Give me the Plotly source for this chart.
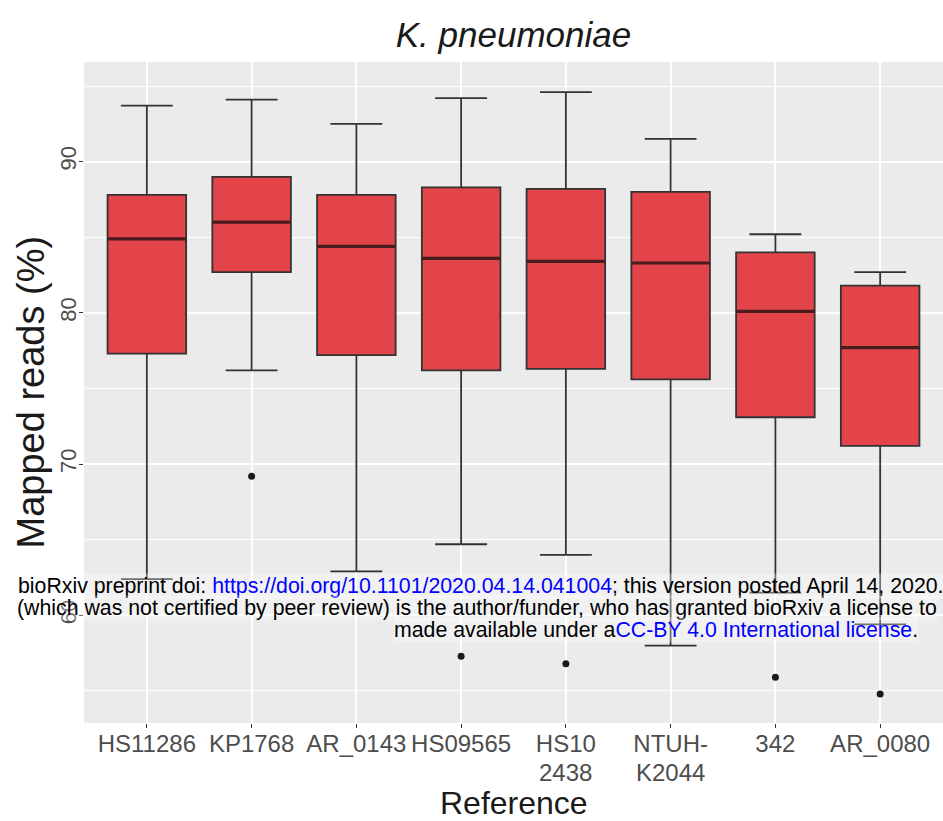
import plotly.graph_objects as go

# Reference genomes and box statistics of mapped reads (%)
references = ["HS11286", "KP1768", "AR_0143", "HS09565", "HS10<br>2438",
              "NTUH-<br>K2044", "342", "AR_0080"]
lower_whisker = [62.4, 76.2, 62.9, 64.7, 64.0, 58.0, 61.5, 59.4]
q1_values = [77.3, 82.7, 77.2, 76.2, 76.3, 75.6, 73.1, 71.2]
medians = [84.9, 86.0, 84.4, 83.6, 83.4, 83.3, 80.1, 77.7]
q3_values = [87.8, 89.0, 87.8, 88.3, 88.2, 88.0, 84.0, 81.8]
upper_whisker = [93.7, 94.1, 92.5, 94.2, 94.6, 91.5, 85.2, 82.7]

# Outlying samples (reference index, value)
outlier_ref = [1, 3, 4, 6, 7]
outlier_val = [69.2, 57.3, 56.8, 55.9, 54.8]

BOX_WIDTH = 0.75
positions = list(range(len(references)))

fig = go.Figure()

fig.add_trace(go.Box(
    x=positions,
    q1=q1_values,
    median=medians,
    q3=q3_values,
    lowerfence=lower_whisker,
    upperfence=upper_whisker,
    width=BOX_WIDTH,
    whiskerwidth=0.66,
    fillcolor="#E2444A",
    line=dict(color="#333333", width=1.8),
    boxpoints=False,
    hoverinfo="skip",
    showlegend=False,
))

# Heavier median bars drawn over each box
med_x, med_y = [], []
for i, m in zip(positions, medians):
    med_x += [i - BOX_WIDTH / 2, i + BOX_WIDTH / 2, None]
    med_y += [m, m, None]
fig.add_trace(go.Scatter(
    x=med_x, y=med_y, mode="lines",
    line=dict(color="#4a1c1e", width=3.2),
    hoverinfo="skip", showlegend=False,
))

fig.add_trace(go.Scatter(
    x=outlier_ref, y=outlier_val, mode="markers",
    marker=dict(color="#1a1a1a", size=7),
    hoverinfo="skip", showlegend=False,
))

FONT = "Liberation Sans, Arial, sans-serif"
tick_font = dict(family=FONT, color="#4D4D4D")

# Two-line category names: first line as the tick label, second line placed
# just below it with tighter spacing
first_lines = [r.split("<br>")[0] for r in references]
second_lines = [(i, r.split("<br>")[1]) for i, r in enumerate(references) if "<br>" in r]

fig.update_layout(
    width=943, height=821,
    margin=dict(l=84, r=0, t=62, b=98),
    paper_bgcolor="white",
    plot_bgcolor="#EBEBEB",
    title=dict(
        text="<i>K. pneumoniae</i>",
        x=0.5, xref="paper", xanchor="center",
        y=1 - 35 / 821, yref="container", yanchor="middle",
        font=dict(family=FONT, size=35, color="#1a1a1a"),
    ),
    xaxis=dict(
        range=[-0.6, 7.6],
        tickmode="array", tickvals=positions, ticktext=first_lines,
        showgrid=True, gridcolor="white", gridwidth=1.6,
        zeroline=False, showline=False,
        ticks="outside", ticklen=4, tickcolor="#333333", tickwidth=1.2,
        ticklabelstandoff=-5,
        tickfont=dict(size=24, **tick_font),
    ),
    yaxis=dict(
        range=[52.88, 96.59],
        tickmode="array", tickvals=[60, 70, 80, 90],
        tickangle=-90,
        showgrid=True, gridcolor="white", gridwidth=2,
        minor=dict(tickmode="array", tickvals=[55, 65, 75, 85, 95],
                   showgrid=True, gridcolor="white", gridwidth=1, ticks=""),
        zeroline=False, showline=False,
        ticks="outside", ticklen=4, tickcolor="#333333", tickwidth=1.2,
        ticklabelstandoff=-6,
        tickfont=dict(size=22, **tick_font),
    ),
)

for i, text in second_lines:
    fig.add_annotation(
        text=text, xref="x", yref="paper",
        x=i, y=(723 - 772) / 661, xanchor="center", yanchor="middle",
        showarrow=False, font=dict(size=24, **tick_font),
    )

axis_title_font = dict(family=FONT, color="#1a1a1a")
fig.add_annotation(
    text="Mapped reads (%)", xref="paper", yref="paper",
    x=(30 - 84) / 859, y=0.5, xanchor="center", yanchor="middle",
    textangle=-90, showarrow=False, font=dict(size=38, **axis_title_font),
)
fig.add_annotation(
    text="Reference", xref="paper", yref="paper",
    x=0.5, y=(723 - 803) / 661, xanchor="center", yanchor="middle",
    showarrow=False, font=dict(size=32, **axis_title_font),
)

# bioRxiv preprint header overlay
header_font = dict(family=FONT, size=21.3, color="black")
header_lines = [
    ("bioRxiv preprint doi: <span style='color:#0000FF'>https://doi.org/10.1101/2020.04.14.041004</span>; "
     "this version posted April 14, 2020.", 17, 586),
    ("(which was not certified by peer review) is the author/funder, who has granted bioRxiv a license to",
     16, 608),
    ("made available under a<span style='color:#0000FF'>CC-BY 4.0 International license</span>.", 393, 630),
]
for text, px, py in header_lines:
    fig.add_annotation(
        text=text, xref="paper", yref="paper",
        x=(px - 84) / 859, y=(723 - py) / 661,
        xanchor="left", yanchor="middle", align="left",
        showarrow=False, font=header_font,
        bgcolor="rgba(255,255,255,0.3)", borderpad=0,
    )

fig.write_html("out.html")
